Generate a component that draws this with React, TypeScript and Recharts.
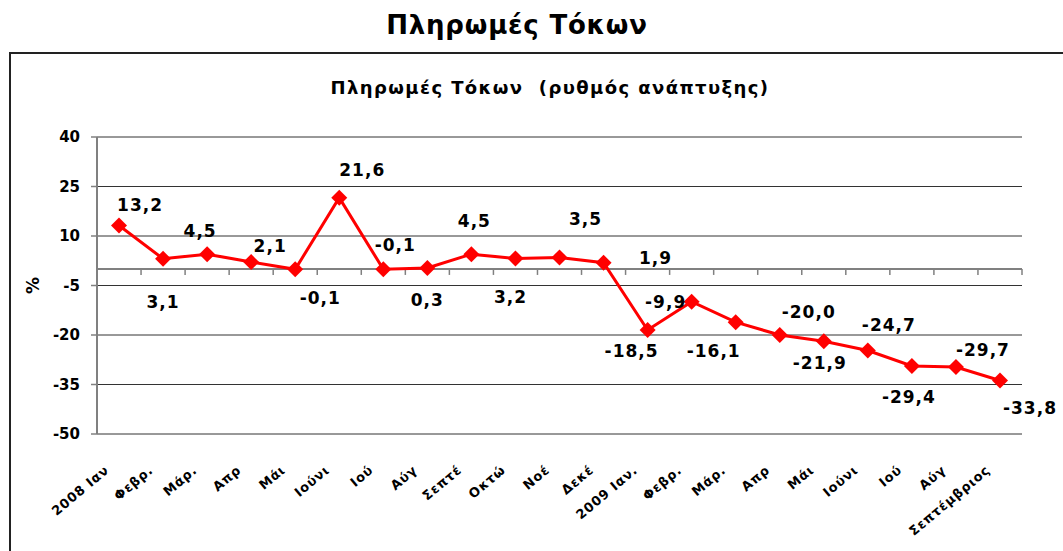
import React from "react";
import {
  CartesianGrid,
  LabelList,
  Line,
  LineChart,
  ReferenceLine,
  XAxis,
  YAxis,
} from "recharts";

const months = [
  "2008 Ιαν",
  "Φεβρ.",
  "Μάρ.",
  "Απρ",
  "Μάι",
  "Ιούνι",
  "Ιού",
  "Αύγ",
  "Σεπτέ",
  "Οκτώ",
  "Νοέ",
  "Δεκέ",
  "2009 Ιαν.",
  "Φεβρ.",
  "Μάρ.",
  "Απρ",
  "Μάι",
  "Ιούνι",
  "Ιού",
  "Αύγ",
  "Σεπτέμβριος",
];

const growth = [
  13.2, 3.1, 4.5, 2.1, -0.1, 21.6, -0.1, 0.3, 4.5, 3.2, 3.5, 1.9, -18.5, -9.9,
  -16.1, -20.0, -21.9, -24.7, -29.4, -29.7, -33.8,
];

const yTicks = [40, 25, 10, -5, -20, -35, -50];

// where each value label sits relative to its marker (dx, dy)
const labelOffsets: [number, number][] = [
  [21, -20], [0, 43], [-7, -23], [19, -16], [25, 29], [23, -28], [12, -24],
  [0, 32], [3, -33], [-5, 39], [26, -38], [52, -5], [-16, 21], [-26, 0],
  [-22, 29], [29, -23], [-4, 22], [21, -26], [-3, 31], [27, -17], [30, 27],
];

const FONT = "'DejaVu Sans', Verdana, sans-serif";

const rows = growth.map((value, i) => ({ pos: i + 0.5, month: months[i], value }));
const tickPositions = rows.map((r) => r.pos);
const boundaries = Array.from({ length: months.length + 1 }, (_, i) => i);

const fmt = (v: number) => v.toFixed(1).replace(".", ",");

function Diamond(props: any) {
  const { cx, cy } = props;
  if (cx == null || cy == null) return null;
  const r = 8;
  return (
    <polygon
      points={`${cx},${cy - r} ${cx + r},${cy} ${cx},${cy + r} ${cx - r},${cy}`}
      fill="#FF0000"
    />
  );
}

function XTick(props: any) {
  const { x, y, payload } = props;
  const label = months[Math.floor(payload.value)];
  return (
    <text
      transform={`translate(${x - 12},${y + 34}) rotate(-40)`}
      textAnchor="end"
      dominantBaseline="central"
      fontFamily={FONT}
      fontWeight="bold"
      fontSize={13}
      letterSpacing={0.8}
      fill="#000"
    >
      {label}
    </text>
  );
}

function ValueLabel(props: any) {
  const { x, y, value, index } = props;
  const [dx, dy] = labelOffsets[index] ?? [0, -20];
  return (
    <text
      x={x + dx}
      y={y + dy}
      textAnchor="middle"
      dominantBaseline="central"
      fontFamily={FONT}
      fontWeight="bold"
      fontSize={17}
      letterSpacing={1}
      fill="#000"
    >
      {fmt(value)}
    </text>
  );
}

export default function App() {
  return (
    <div
      style={{
        position: "absolute",
        left: 0,
        top: 0,
        width: 1063,
        height: 551,
        overflow: "hidden",
        background: "#fff",
        fontFamily: FONT,
      }}
    >
      <div
        style={{
          position: "absolute",
          left: 0,
          width: 1034,
          top: 9,
          textAlign: "center",
          fontSize: 26,
          fontWeight: "bold",
          letterSpacing: 0.8,
          lineHeight: "32px",
        }}
      >
        Πληρωμές Τόκων
      </div>
      <div
        style={{
          position: "absolute",
          left: 9,
          top: 52,
          width: 1200,
          height: 600,
          border: "2px solid #222",
        }}
      />
      <div
        style={{
          position: "absolute",
          left: 0,
          width: 1100,
          top: 76,
          textAlign: "center",
          fontSize: 18,
          fontWeight: "bold",
          letterSpacing: 1.4,
          lineHeight: "24px",
          whiteSpace: "pre",
        }}
      >
        {"Πληρωμές Τόκων  (ρυθμός ανάπτυξης)"}
      </div>
      <div style={{ position: "absolute", left: 0, top: 0 }}>
        <LineChart
          width={1063}
          height={551}
          data={rows}
          margin={{ top: 137, right: 41, bottom: 57, left: 40 }}
        >
          <CartesianGrid vertical={false} stroke="#333" strokeWidth={1} />
          <XAxis
            type="number"
            dataKey="pos"
            domain={[0, months.length]}
            ticks={tickPositions}
            interval={0}
            axisLine={false}
            tickLine={false}
            tickSize={0}
            tickMargin={0}
            height={60}
            tick={<XTick />}
          />
          <YAxis
            domain={[-50, 40]}
            ticks={yTicks}
            interval={0}
            width={57}
            axisLine={{ stroke: "#808080", strokeWidth: 2 }}
            tickLine={{ stroke: "#808080", strokeWidth: 1.5 }}
            tickSize={6}
            tickMargin={11}
            tick={{ fontFamily: FONT, fontWeight: "bold", fontSize: 15, fill: "#000" }}
            label={{
              content: (p: any) => {
                const vb = p.viewBox;
                const cx = vb.x - 7;
                const cy = vb.y + vb.height / 2;
                return (
                  <text
                    transform={`translate(${cx},${cy}) rotate(-90)`}
                    textAnchor="middle"
                    dominantBaseline="central"
                    fontFamily={FONT}
                    fontWeight="bold"
                    fontSize={17}
                    fill="#000"
                  >
                    %
                  </text>
                );
              },
            }}
          />
          <ReferenceLine y={0} stroke="#808080" strokeWidth={2} />
          {boundaries.map((b) => (
            <ReferenceLine
              key={b}
              segment={[
                { x: b, y: 0 },
                { x: b, y: -1.8 },
              ]}
              stroke="#808080"
              strokeWidth={1.5}
            />
          ))}
          <Line
            type="linear"
            dataKey="value"
            stroke="#FF0000"
            strokeWidth={3}
            dot={<Diamond />}
            activeDot={false}
            isAnimationActive={false}
          >
            <LabelList dataKey="value" content={<ValueLabel />} />
          </Line>
        </LineChart>
      </div>
    </div>
  );
}
